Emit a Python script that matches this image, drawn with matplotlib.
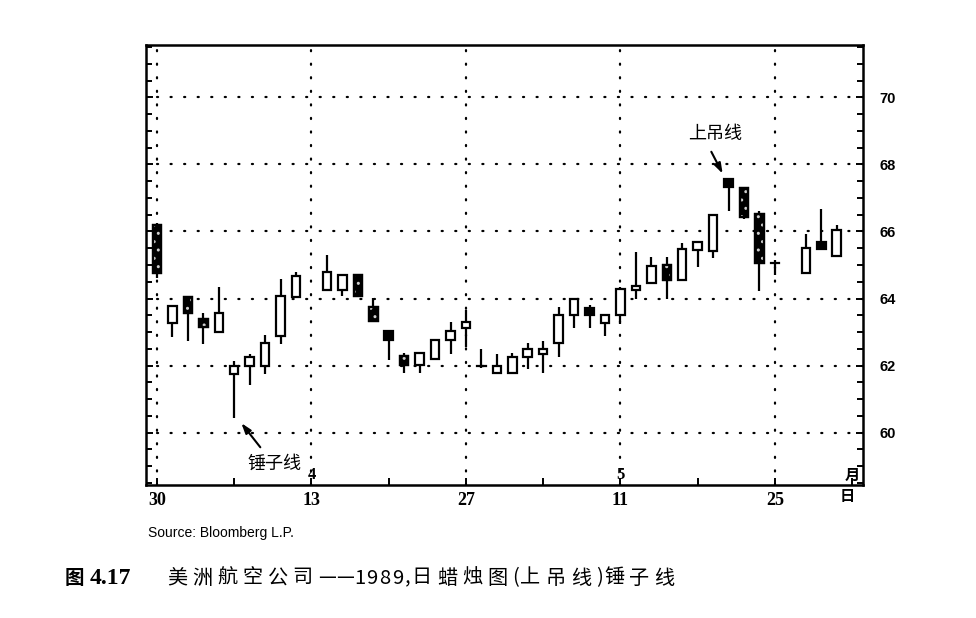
import matplotlib
matplotlib.use("Agg")
import matplotlib.pyplot as plt
from matplotlib.patches import Rectangle
import numpy as np

# ---------------- data ----------------
day_index = list(range(45))
opens  = [66.20, 63.27, 64.05, 63.40, 63.00, 61.75, 61.98, 61.98, 62.87, 64.05,
          None,  64.24, 64.26, 64.69, 63.76, 63.04, 62.30, 62.02, 62.19, 62.75,
          63.11, 62.00, 61.78, 61.78, 62.26, 62.35, 62.67, 63.50, 63.73, 63.26,
          63.50, 64.26, 64.47, 65.00, 64.55, 65.45, 65.43, 67.56, 67.30, 66.52,
          65.06, None,  64.76, 65.70, 65.28]
highs  = [66.25, 63.80, 64.05, 63.57, 64.35, 62.15, 62.35, 62.90, 64.58, 64.80,
          None,  65.30, 64.69, 64.69, 64.02, 63.04, 62.37, 62.37, 62.77, 63.29,
          63.67, 62.50, 62.35, 62.38, 62.67, 62.74, 63.76, 64.00, 63.81, 63.52,
          64.34, 65.40, 65.25, 65.25, 65.66, 65.70, 66.50, 67.56, 67.30, 66.62,
          65.16, None,  65.92, 66.68, 66.19]
lows   = [64.60, 62.85, 62.73, 62.65, 63.00, 60.45, 61.42, 61.75, 62.65, 64.05,
          None,  64.24, 64.07, 64.07, 63.32, 62.18, 61.78, 61.78, 62.19, 62.35,
          62.56, 61.92, 61.78, 61.78, 61.90, 61.78, 62.26, 63.11, 63.11, 62.88,
          63.24, 63.99, 64.47, 63.99, 64.55, 64.95, 65.20, 66.62, 66.36, 64.22,
          64.69, None,  64.76, 65.49, 65.28]
closes = [64.75, 63.78, 63.58, 63.15, 63.57, 61.98, 62.27, 62.67, 64.07, 64.67,
          None,  64.80, 64.69, 64.07, 63.32, 62.75, 62.02, 62.37, 62.77, 63.04,
          63.30, 62.00, 62.00, 62.26, 62.50, 62.50, 63.52, 64.00, 63.50, 63.52,
          64.27, 64.36, 64.97, 64.55, 65.47, 65.70, 66.50, 67.32, 66.44, 65.07,
          65.06, None,  65.52, 65.49, 66.04]
shaded_days = [0, 2, 3, 13, 14, 16, 33, 38, 39]

date_ticks = [0, 10, 20, 30, 40]
date_labels = ["30", "13", "27", "11", "25"]
month_marks = [(10, "4"), (30, "5")]
price_ticks = [60, 62, 64, 66, 68, 70]

# ---------------- figure ----------------
W, H = 976, 618
fig = plt.figure(figsize=(W / 100, H / 100), dpi=100)
ax = fig.add_axes([0.1496, 0.2152, 0.8842 - 0.1496, 0.9272 - 0.2152])
ax.set_xlim(-0.71, 45.7)
ax.set_ylim(58.44, 71.56)

dot = (0, (0.5, 5.6))
for p in price_ticks:
    ax.plot([0, 45.7], [p, p], color="black", lw=1.6, ls=dot,
            dash_capstyle="round", zorder=1)
for d in date_ticks:
    ax.plot([d, d], [58.44, 71.56], color="black", lw=1.6, ls=dot,
            dash_capstyle="round", zorder=1)

bw = 0.55
for i, o, h, l, c in zip(day_index, opens, highs, lows, closes):
    if o is None:
        continue
    ax.plot([i, i], [l, h], color="black", lw=1.6, zorder=2,
            solid_capstyle="butt")
    lo, hi = min(o, c), max(o, c)
    if hi - lo < 0.02:
        ax.plot([i - bw / 2, i + bw / 2], [o, o], color="black", lw=1.6,
                zorder=3)
        continue
    up = c > o
    ax.add_patch(Rectangle((i - bw / 2, lo), bw, hi - lo,
                           facecolor="white" if up else "black",
                           edgecolor="black", lw=1.6, zorder=3))
    if (not up) and i in shaded_days:
        ax.add_patch(Rectangle((i - bw / 2, lo), bw, hi - lo, fill=False,
                               hatch="..", edgecolor="#cfcfcf", lw=0,
                               zorder=4))
        ax.add_patch(Rectangle((i - bw / 2, lo), bw, hi - lo, fill=False,
                               edgecolor="black", lw=1.6, zorder=5))

# axes styling
for s in ax.spines.values():
    s.set_linewidth(1.8)
ax.set_yticks(price_ticks)
ax.set_yticks(np.arange(58.5, 71.51, 0.5), minor=True)
ax.yaxis.set_ticks_position("both")
ax.tick_params(axis="y", which="both", direction="in", left=True, right=True,
               labelleft=False, labelright=True, width=1.4)
ax.tick_params(axis="y", which="major", length=5, pad=12)
ax.tick_params(axis="y", which="minor", length=4)
for t in ax.get_yticklabels():
    t.set_fontfamily("Liberation Sans")
    t.set_fontweight("bold")
    t.set_fontsize(10.5)

ax.set_xticks(date_ticks)
ax.set_xticklabels(date_labels, fontfamily="Liberation Serif",
                   fontweight="bold", fontsize=13)
ax.set_xticks([5, 15, 25, 35, 45], minor=True)
ax.tick_params(axis="x", which="both", direction="in", length=5, width=1.4,
               pad=5, top=False)

cjk = ["Noto Sans CJK SC", "DejaVu Sans"]
for d, m in month_marks:
    ax.text(d, 58.74, m, ha="center", va="center", fontsize=12,
            fontweight="bold", fontfamily="Liberation Serif")
ax.text(45.0, 58.74, "月", ha="center", va="center", fontsize=11,
        fontweight="bold", fontfamily=cjk)
ax.text(44.7, -0.025, "日", ha="center", va="center", fontsize=11,
        fontweight="bold", fontfamily=cjk,
        transform=ax.get_xaxis_transform())

# annotations
ax.text(36.1, 68.92, "上吊线", ha="center", va="center", fontsize=13,
        fontfamily=cjk)
ax.annotate("", xy=(36.7, 67.65), xytext=(35.8, 68.45),
            arrowprops=dict(arrowstyle="-|>,head_length=0.6,head_width=0.2",
                            color="black", lw=1.5))
ax.text(7.6, 59.08, "锤子线", ha="center", va="center", fontsize=13,
        fontfamily=cjk)
ax.annotate("", xy=(5.35, 60.35), xytext=(6.8, 59.5),
            arrowprops=dict(arrowstyle="-|>,head_length=0.6,head_width=0.2",
                            color="black", lw=1.5))

# footer texts
fig.text(148 / W, 1 - 533 / H, "Source: Bloomberg L.P.", fontsize=10,
         fontfamily="Liberation Sans", va="center", ha="left")
fig.text(65 / W, 1 - 578 / H, "图", fontsize=14, fontweight="bold",
         fontfamily=cjk, va="center", ha="left")
fig.text(90 / W, 1 - 578 / H, "4.17", fontsize=17, fontweight="bold",
         fontfamily="Liberation Serif", va="center", ha="left")

# caption with letter spacing (drawn character by character)
caption = "美洲航空公司——1989,日蜡烛图(上吊线)锤子线"
renderer = fig.canvas.get_renderer()
xpix = 167.0
for ch in caption:
    t = fig.text(xpix / W, 1 - 578 / H, ch, fontsize=14.5, fontfamily=cjk,
                 va="center", ha="left")
    w = t.get_window_extent(renderer).width
    if ch == "—":
        gap = 0
    elif ord(ch) < 128:
        gap = 1.5
    else:
        gap = 5
    xpix += w + gap

fig.savefig("out.png", dpi=100, facecolor="white")
